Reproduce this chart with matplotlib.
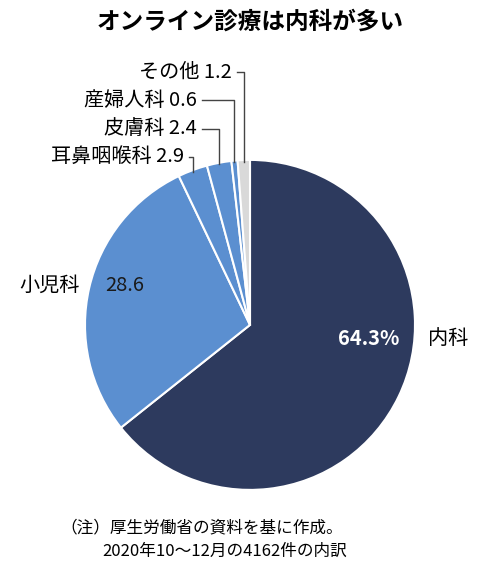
import numpy as np
import matplotlib
matplotlib.use('Agg')
import matplotlib.pyplot as plt

plt.rcParams['font.family'] = ['Noto Sans CJK JP', 'DejaVu Sans']

labels = ['内科', '小児科', '耳鼻咽喉科', '皮膚科', '産婦人科', 'その他']
values = [64.3, 28.6, 2.9, 2.4, 0.6, 1.2]
colors = ['#2d3a5e', '#5b8fd0', '#5b8fd0', '#5b8fd0', '#5b8fd0', '#d9d9d9']
small_rows = [1.02, 1.19, 1.36, 1.53]   # label rows for the small slices (data units)
small_text_x = [-0.40, -0.32, -0.32, -0.11]

fig = plt.figure(figsize=(5, 5.69), dpi=100)
ax = fig.add_axes([0.17, 0.139, 0.66, 0.58])
ax.pie(values, colors=colors, startangle=90, counterclock=False,
       wedgeprops=dict(edgecolor='white', linewidth=1.5))
ax.set_xlim(-1, 1)
ax.set_ylim(-1, 1)
ax.set_aspect('equal')
ax.axis('off')

# mid angles of slices
cum = np.cumsum([0] + values) / sum(values)
mids = [90 - 360 * (cum[i] + cum[i + 1]) / 2 for i in range(len(values))]

# big slices
ax.text(0.72, -0.08, f'{values[0]}%', color='white', fontsize=14.5, fontweight='bold',
        ha='center', va='center')
ax.text(1.08, -0.08, labels[0], fontsize=14.5, ha='left', va='center')
ax.text(-0.76, 0.24, f'{values[1]}', color='#1a1a1a', fontsize=14.5, ha='center', va='center')
ax.text(-1.03, 0.24, labels[1], fontsize=14.5, ha='right', va='center', clip_on=False)

for k, i in enumerate(range(2, 6)):
    row = small_rows[k]
    tx = small_text_x[k]
    ax.text(tx, row, f'{labels[i]} {values[i]}', fontsize=14.5, ha='right', va='center',
            clip_on=False)
    a = np.deg2rad(mids[i])
    sx, sy = np.cos(a), np.sin(a)
    ax.plot([tx + 0.03, sx, sx], [row, row, sy * 0.99], color='#444444', lw=1, clip_on=False)

fig.text(0.5, 0.962, 'オンライン診療は内科が多い', fontsize=17, fontweight='bold',
         ha='center', va='center')
fig.text(0.12, 0.073, '（注）厚生労働省の資料を基に作成。', fontsize=12, ha='left', va='center')
fig.text(0.205, 0.031, '2020年10～12月の4162件の内訳', fontsize=12, ha='left', va='center')

fig.savefig('out.png', dpi=100)
